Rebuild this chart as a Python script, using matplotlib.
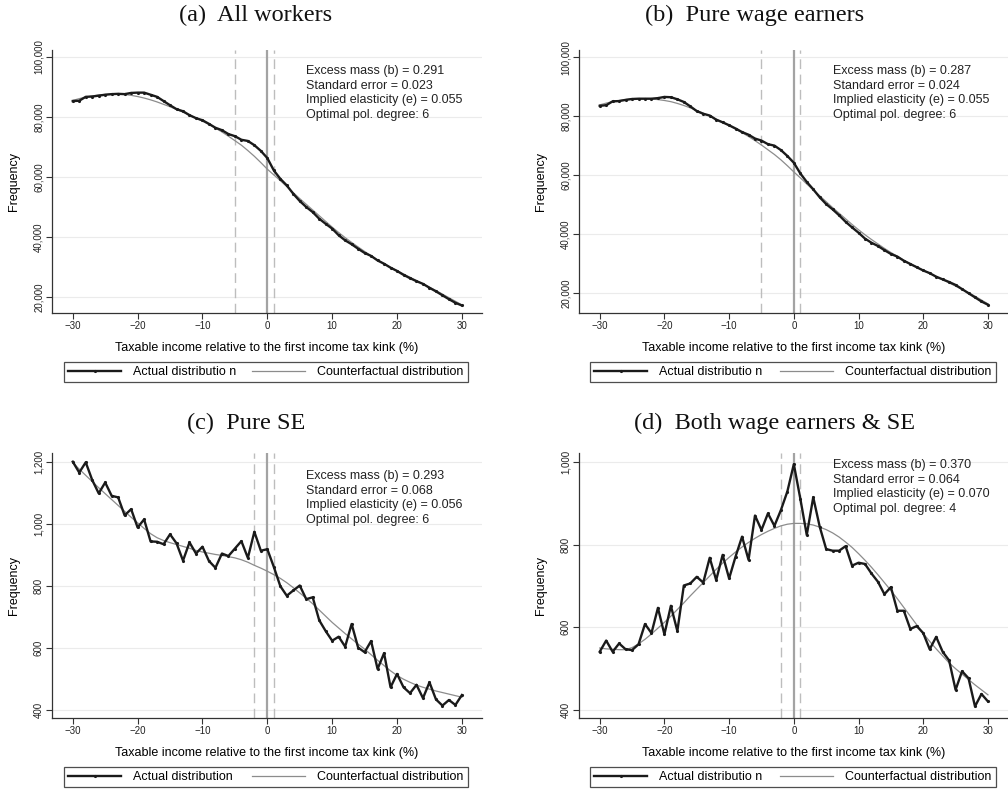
import numpy as np
import matplotlib.pyplot as plt

plt.rcParams["font.family"] = ["Liberation Sans", "DejaVu Sans"]

# bins: taxable income relative to the first kink (%)
x = np.arange(-30, 31)

# (a) all workers
actual_all = [85300, 85400, 86700, 86800, 87100, 87400, 87600, 87700, 87600, 88000,
              88100, 88100, 87400, 86700, 85300, 83900, 82600, 81900, 80600, 79600,
              78900, 77700, 76400, 75600, 74300, 73600, 72400, 72000, 70600, 68700,
              66300, 62200, 59400, 57200, 54400, 52000, 50000, 48300, 46100, 44400,
              42800, 40600, 38900, 37600, 36100, 34700, 33700, 32200, 31100, 29800,
              28700, 27400, 26300, 25300, 24400, 23100, 21900, 20600, 19300, 18100, 17200]
cf_all = [85500, 86100, 86600, 87000, 87300, 87500, 87600, 87600, 87500, 87200,
          86800, 86300, 85700, 85000, 84200, 83400, 82500, 81600, 80600, 79600,
          78600, 77500, 76300, 75000, 73600, 72100, 70600, 68800, 66900, 64800,
          62600, 60700, 58800, 56800, 54800, 52800, 50900, 49000, 47100, 45200,
          43300, 41500, 39800, 38200, 36700, 35200, 33800, 32400, 31100, 29900,
          28800, 27700, 26600, 25500, 24400, 23300, 22200, 21000, 19800, 18600, 17400]

# (b) pure wage earners
actual_wage = [83500, 83700, 85000, 85100, 85500, 85800, 85900, 85900, 85900, 86100,
               86500, 86400, 85700, 84800, 83300, 81700, 80800, 80200, 78800, 77900,
               76900, 75800, 74600, 73700, 72400, 71700, 70500, 70000, 68500, 66500,
               64200, 60600, 57700, 55200, 52500, 50200, 48400, 46400, 44200, 42300,
               40500, 38500, 37100, 36000, 34600, 33300, 32400, 31000, 29900, 28800,
               27700, 26800, 25600, 24700, 23800, 22800, 21400, 20000, 18600, 17200, 16100]
cf_wage = [83800, 84400, 84900, 85300, 85600, 85800, 85900, 85900, 85800, 85600,
           85300, 84900, 84300, 83600, 82800, 81900, 81000, 80000, 79000, 77900,
           76800, 75600, 74400, 73100, 71700, 70200, 68600, 67000, 65200, 63200,
           61100, 59100, 57000, 55000, 53000, 51000, 49000, 47100, 45200, 43300,
           41500, 39800, 38200, 36700, 35200, 33800, 32500, 31200, 30000, 28900,
           27800, 26700, 25600, 24600, 23500, 22400, 21300, 20200, 19000, 17700, 16400]

# (c) pure SE
actual_se = [1200, 1165, 1198, 1141, 1098, 1133, 1090, 1085, 1027, 1047,
             988, 1014, 943, 942, 934, 966, 937, 881, 940, 904,
             926, 880, 858, 904, 896, 920, 944, 890, 974, 913,
             918, 861, 799, 768, 785, 801, 757, 763, 689, 654,
             623, 636, 604, 677, 601, 586, 622, 532, 583, 473,
             516, 473, 454, 481, 438, 489, 434, 414, 432, 416, 448]
cf_se = [1197, 1176, 1156, 1136, 1116, 1097, 1078, 1059, 1040, 1021,
         1003, 985, 968, 955, 946, 939, 933, 927, 921, 914,
         909, 905, 901, 898, 894, 890, 884, 876, 866, 857,
         847, 836, 824, 810, 794, 777, 760, 742, 722, 702,
         682, 664, 646, 629, 612, 596, 578, 560, 543, 526,
         511, 499, 489, 480, 473, 467, 461, 456, 451, 446, 441]

# (d) both wage earners & SE
actual_both = [541, 568, 541, 561, 547, 545, 559, 608, 586, 647,
               583, 652, 591, 701, 706, 722, 708, 768, 714, 775,
               718, 771, 819, 763, 870, 835, 875, 845, 883, 928,
               994, 911, 823, 914, 843, 789, 785, 785, 796, 749,
               756, 753, 730, 710, 680, 697, 640, 640, 596, 603,
               586, 547, 577, 541, 520, 449, 494, 477, 409, 439, 421]
cf_both = [550, 548, 547, 546, 546, 551, 560, 571, 584, 598,
           612, 627, 643, 659, 676, 692, 708, 724, 740, 755,
           769, 782, 794, 805, 815, 824, 832, 839, 845, 849,
           851, 851, 850, 847, 842, 836, 828, 818, 806, 793,
           778, 762, 745, 727, 708, 689, 669, 648, 627, 606,
           585, 566, 548, 531, 514, 500, 487, 474, 461, 449, 437]

titles = ["(a)  All workers", "(b)  Pure wage earners",
          "(c)  Pure SE", "(d)  Both wage earners & SE"]
stats = [
    ["Excess mass (b) = 0.291", "Standard error = 0.023",
     "Implied elasticity (e) = 0.055", "Optimal pol. degree: 6"],
    ["Excess mass (b) = 0.287", "Standard error = 0.024",
     "Implied elasticity (e) = 0.055", "Optimal pol. degree: 6"],
    ["Excess mass (b) = 0.293", "Standard error = 0.068",
     "Implied elasticity (e) = 0.056", "Optimal pol. degree: 6"],
    ["Excess mass (b) = 0.370", "Standard error = 0.064",
     "Implied elasticity (e) = 0.070", "Optimal pol. degree: 4"],
]
actual_labels = ["Actual distributio n", "Actual distributio n",
                 "Actual distribution", "Actual distributio n"]
bunching_windows = [(-5, 1), (-5, 1), (-2, 1), (-2, 1)]
yticks = [[20000, 40000, 60000, 80000, 100000],
          [20000, 40000, 60000, 80000, 100000],
          [400, 600, 800, 1000, 1200],
          [400, 600, 800, 1000]]
ylims = [(14700, 102300), (13300, 102400), (374, 1228), (381, 1021)]

actuals = [actual_all, actual_wage, actual_se, actual_both]
counterfactuals = [cf_all, cf_wage, cf_se, cf_both]

W, H = 1008, 789
# axes boxes in pixels: left, top, right, bottom
boxes = [(52, 50, 482, 313), (579, 50, 1008, 313),
         (52, 453, 482, 718), (579, 453, 1008, 718)]
title_pos = [(256, 15), (755, 15), (246, 423), (775, 423)]
stats_pos = [(306, 65), (833, 65), (306, 470), (833, 459)]
legend_box = [(64, 360, 468, 384), (590, 360, 996, 384),
              (64, 765, 468, 789), (590, 765, 996, 789)]

fig = plt.figure(figsize=(W / 100, H / 100), dpi=100)

for i in range(4):
    l, t, r, b = boxes[i]
    ax = fig.add_axes([l / W, 1 - b / H, (r - l) / W, (b - t) / H])

    ax.set_xlim(-33.2, 33.1)
    ax.set_ylim(*ylims[i])

    for y in yticks[i]:
        ax.axhline(y, color="#ebebeb", lw=0.8, zorder=0)

    lo, hi = bunching_windows[i]
    ax.axvline(lo, color="#bdbdbd", lw=1, ls=(0, (7, 4)), zorder=1)
    ax.axvline(hi, color="#bdbdbd", lw=1, ls=(0, (7, 4)), zorder=1)
    ax.axvline(0, color="#a3a3a3", lw=1.6, zorder=1)

    ax.plot(x, counterfactuals[i], color="#8c8c8c", lw=0.9, zorder=2,
            label="Counterfactual distribution")
    ax.plot(x, actuals[i], color="#1a1a1a", lw=1.7, marker=".", markersize=2.5,
            zorder=3, label=actual_labels[i])

    ax.set_xticks([-30, -20, -10, 0, 10, 20, 30])
    ax.set_yticks(yticks[i])
    ax.set_yticklabels([f"{v:,}" for v in yticks[i]])
    ax.tick_params(axis="both", labelsize=7, length=4, width=0.8,
                   color="#333333", labelcolor="#222222", pad=2)
    ax.tick_params(axis="y", labelrotation=90)
    for lab in ax.get_yticklabels():
        lab.set_va("center")

    for side in ["top", "right"]:
        ax.spines[side].set_visible(False)
    for side in ["left", "bottom"]:
        ax.spines[side].set_color("#333333")
        ax.spines[side].set_linewidth(0.9)

    ax.set_ylabel("Frequency", fontsize=9, labelpad=10)
    ax.set_xlabel("Taxable income relative to the first income tax kink (%)",
                  fontsize=9, labelpad=8)

    sx, sy = stats_pos[i]
    fig.text(sx / W, 1 - sy / H, "\n".join(stats[i]), fontsize=9,
             color="#222222", ha="left", va="top", linespacing=1.3)

    tx, ty = title_pos[i]
    fig.text(tx / W, 1 - ty / H, titles[i], fontsize=17.5,
             family=["Liberation Serif", "DejaVu Serif"],
             ha="center", va="center", color="#111111")

    handles, labels = ax.get_legend_handles_labels()
    lx0, ly0, lx1, ly1 = legend_box[i]
    leg = ax.legend(handles[::-1], labels[::-1], ncol=2, mode="expand",
                    loc="center", fontsize=9, numpoints=1,
                    bbox_to_anchor=(lx0 / W, 1 - ly1 / H,
                                    (lx1 - lx0) / W, (ly1 - ly0) / H),
                    bbox_transform=fig.transFigure, frameon=True,
                    fancybox=False, borderpad=0.35, handlelength=4.2,
                    handletextpad=1.0, borderaxespad=0)
    leg.get_frame().set_edgecolor("#222222")
    leg.get_frame().set_linewidth(0.9)

fig.savefig("out.png", dpi=100)
